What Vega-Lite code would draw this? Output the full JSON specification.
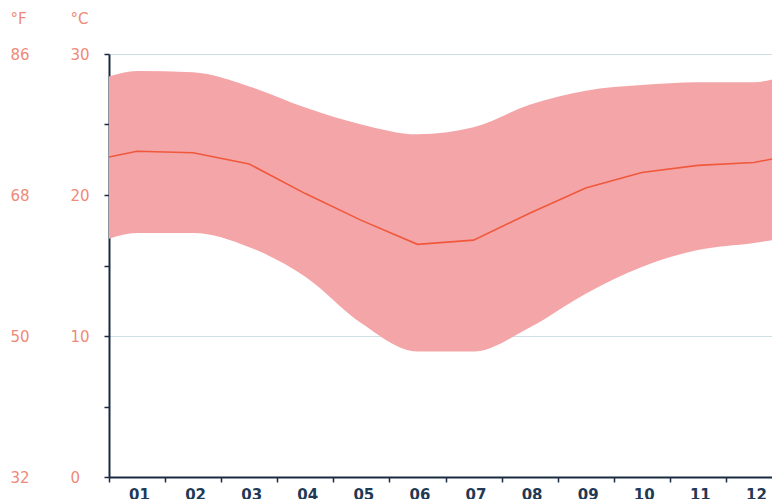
{
  "$schema": "https://vega.github.io/schema/vega-lite/v6.json",
  "width": 673,
  "height": 423,
  "autosize": {"type": "none"},
  "padding": {"left": 109, "top": 54, "right": 0, "bottom": 22},
  "background": "white",
  "config": {
    "view": {"stroke": null},
    "font": "DejaVu Sans"
  },
  "data": {
    "values": [
      {"m": 0.5, "tmin": 16.9, "tmax": 28.4, "tmean": 22.7},
      {"m": 1, "tmin": 17.3, "tmax": 28.8, "tmean": 23.1},
      {"m": 2, "tmin": 17.3, "tmax": 28.7, "tmean": 23.0},
      {"m": 3, "tmin": 16.3, "tmax": 27.7, "tmean": 22.2},
      {"m": 4, "tmin": 14.2, "tmax": 26.2, "tmean": 20.1},
      {"m": 5, "tmin": 10.9, "tmax": 25.0, "tmean": 18.2},
      {"m": 6, "tmin": 8.9, "tmax": 24.3, "tmean": 16.5},
      {"m": 7, "tmin": 8.9, "tmax": 24.8, "tmean": 16.8},
      {"m": 8, "tmin": 10.6, "tmax": 26.4, "tmean": 18.7},
      {"m": 9, "tmin": 13.0, "tmax": 27.4, "tmean": 20.5},
      {"m": 10, "tmin": 14.9, "tmax": 27.8, "tmean": 21.6},
      {"m": 11, "tmin": 16.1, "tmax": 28.0, "tmean": 22.1},
      {"m": 12, "tmin": 16.6, "tmax": 28.0, "tmean": 22.3},
      {"m": 12.5, "tmin": 16.9, "tmax": 28.4, "tmean": 22.7}
    ]
  },
  "encoding": {
    "x": {
      "field": "m",
      "type": "quantitative",
      "scale": {"domain": [0.5, 12.5], "nice": false, "zero": false},
      "axis": {
        "title": null,
        "values": [0.5, 1.5, 2.5, 3.5, 4.5, 5.5, 6.5, 7.5, 8.5, 9.5, 10.5, 11.5, 12.5],
        "labelExpr": "datum.value < 12 ? ((datum.value + 0.5 < 10 ? '0' : '') + (datum.value + 0.5)) : ''",
        "labelOffset": 30,
        "labelAlign": "center",
        "labelBaseline": "top",
        "labelPadding": 5,
        "labelFontSize": 15,
        "labelFontWeight": "bold",
        "labelColor": "#1f3a56",
        "labelFont": "DejaVu Sans",
        "labelOverlap": false,
        "labelFlush": false,
        "grid": false,
        "domainColor": "#1a2a40",
        "domainWidth": 2,
        "tickColor": "#1a2a40",
        "tickWidth": 1.5,
        "tickSize": 5
      }
    }
  },
  "layer": [
    {
      "mark": {"type": "area", "interpolate": "monotone", "color": "#f4a5a8", "opacity": 1},
      "encoding": {
        "y": {
          "field": "tmin",
          "type": "quantitative",
          "scale": {"domain": [0, 30], "nice": false, "zero": true},
          "axis": {
            "orient": "left",
            "title": "°C",
            "titleAngle": 0,
            "titleAlign": "left",
            "titleBaseline": "middle",
            "titleX": -39,
            "titleY": -36,
            "titleColor": "#ef8a78",
            "titleFontSize": 15,
            "titleFontWeight": "normal",
            "titleFont": "DejaVu Sans",
            "values": [0, 5, 10, 15, 20, 25, 30],
            "labelExpr": "datum.value % 10 == 0 ? datum.label : ''",
            "labelAlign": "left",
            "labelBaseline": "middle",
            "labelPadding": 34,
            "labelFontSize": 15,
            "labelColor": "#ef8a78",
            "labelFont": "DejaVu Sans",
            "domainColor": "#1a2a40",
            "domainWidth": 2,
            "tickColor": "#1a2a40",
            "tickWidth": 1.5,
            "tickSize": 5,
            "grid": true,
            "gridColor": {"condition": {"test": "datum.value % 10 == 0 && datum.value > 0", "value": "#cfdfe8"}, "value": "transparent"},
            "gridWidth": 1.2
          }
        },
        "y2": {"field": "tmax"}
      }
    },
    {
      "mark": {"type": "line", "interpolate": "linear", "color": "#f0583c", "strokeWidth": 1.6},
      "encoding": {
        "y": {
          "field": "tmean",
          "type": "quantitative",
          "axis": {
            "orient": "left",
            "title": "°F",
            "titleAngle": 0,
            "titleAlign": "left",
            "titleBaseline": "middle",
            "titleX": -99,
            "titleY": -36,
            "titleColor": "#ef8a78",
            "titleFontSize": 15,
            "titleFontWeight": "normal",
            "titleFont": "DejaVu Sans",
            "values": [0, 10, 20, 30],
            "labelExpr": "format(datum.value * 9 / 5 + 32, 'd')",
            "labelAlign": "left",
            "labelBaseline": "middle",
            "labelPadding": 99,
            "labelFontSize": 15,
            "labelColor": "#ef8a78",
            "labelFont": "DejaVu Sans",
            "domain": false,
            "ticks": false,
            "tickSize": 0,
            "grid": false
          }
        }
      }
    }
  ],
  "resolve": {"scale": {"y": "shared"}, "axis": {"y": "independent"}}
}
